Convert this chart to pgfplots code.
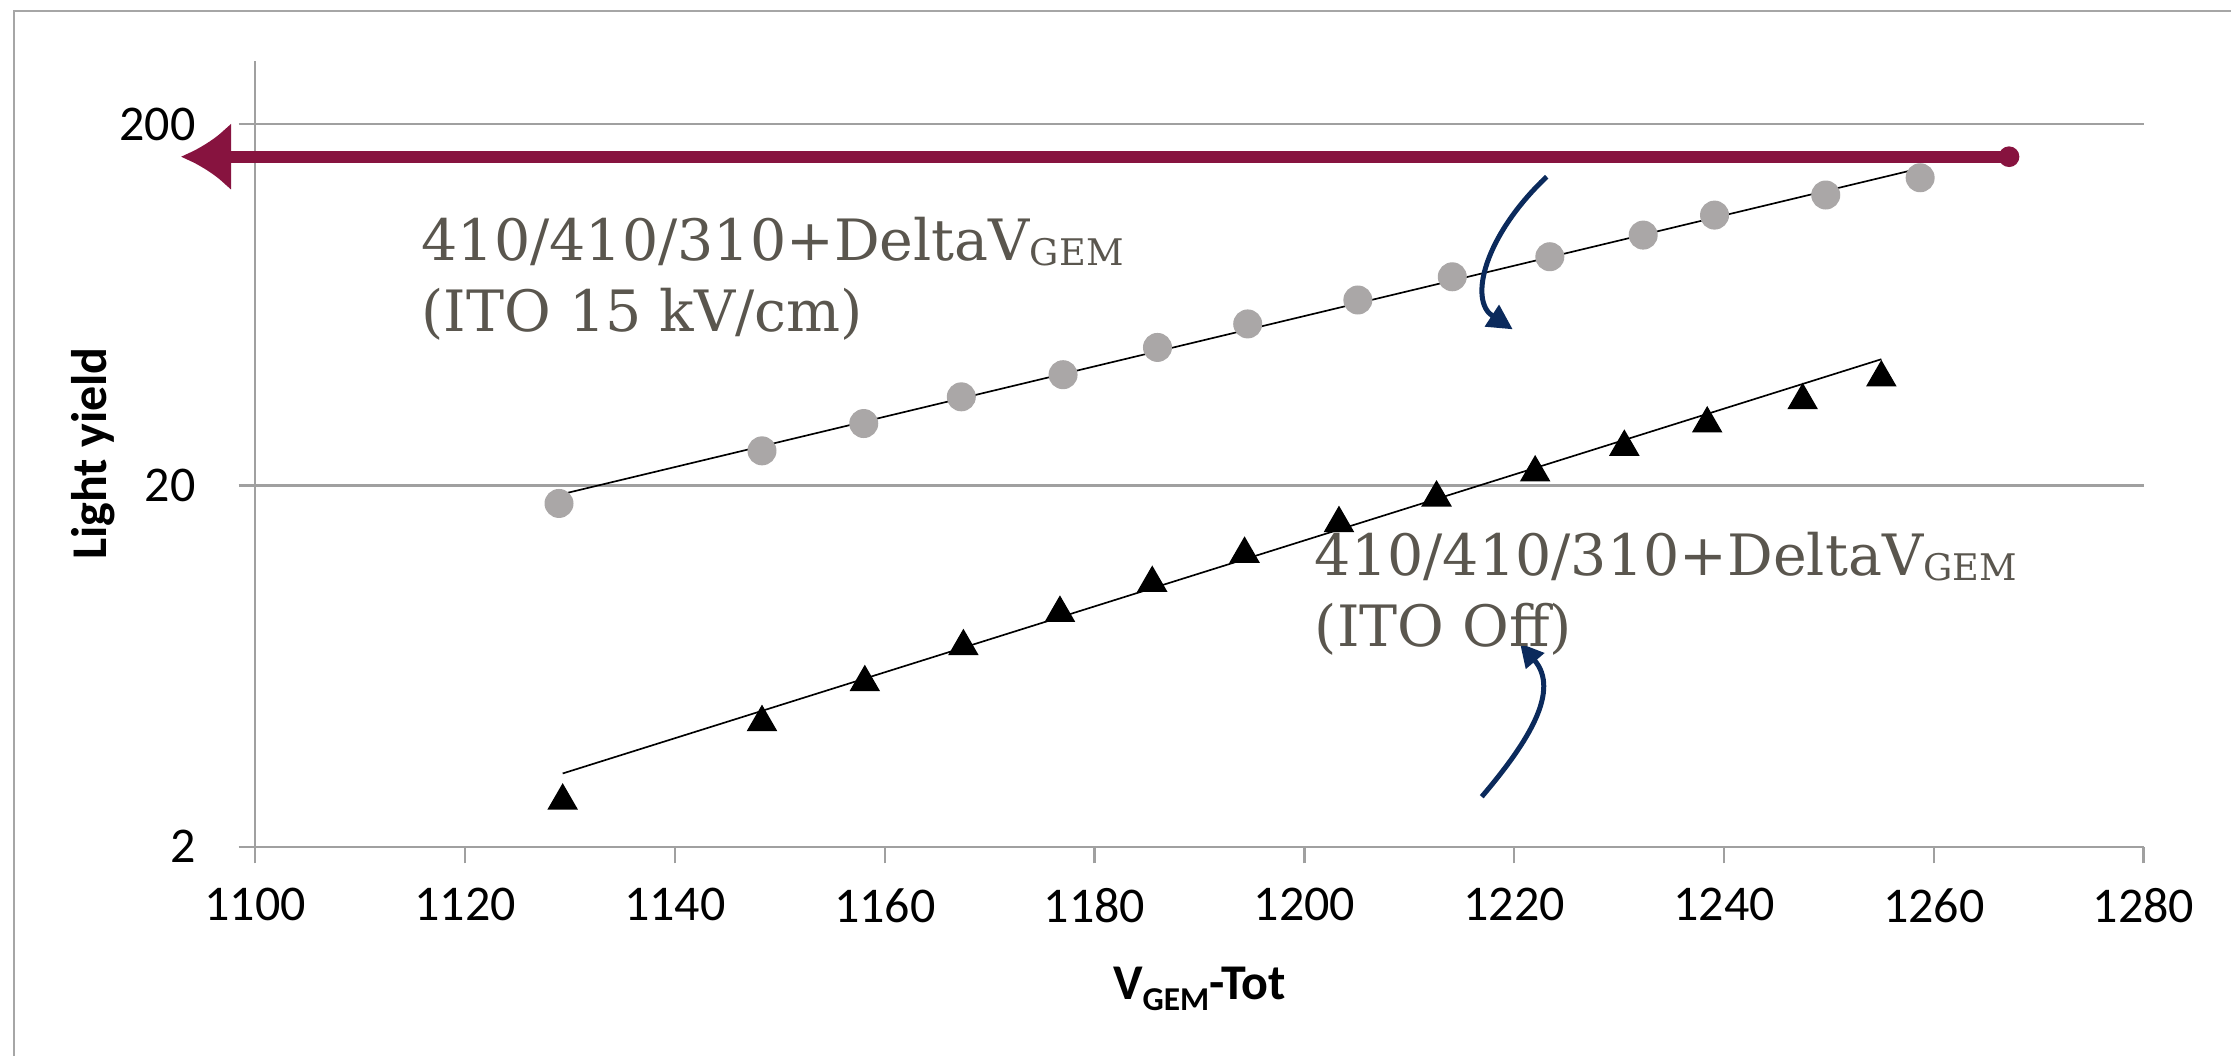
\documentclass[border=0pt]{standalone}
\usepackage{pgfplots}
\pgfplotsset{compat=1.18}
\usepackage{fontspec}
\setmainfont{Carlito}
\newfontfamily\typew{DejaVu Serif}
\usetikzlibrary{arrows.meta}
\definecolor{axisgray}{HTML}{A0A0A0}
\definecolor{framegray}{HTML}{A6A6A6}
\definecolor{circgray}{HTML}{AAA7A7}
\definecolor{maroon}{HTML}{87133F}
\definecolor{navy}{HTML}{0B2A5C}
\definecolor{textgray}{HTML}{5A564E}
\begin{document}
\begin{tikzpicture}
\path[use as bounding box] (0,0) rectangle (669.3pt,-316.8pt);
\begin{axis}[
  at={(76.59pt,-254.01pt)}, anchor=south west,
  scale only axis, width=566.49pt, height=235.86pt,
  xmin=1100, xmax=1280, ymin=2, ymax=300, ymode=log,
  xtick={1100,1120,...,1280}, ytick={2,20,200}, yticklabels={2,20,200},
  yminorticks=false, xminorticks=false,
  axis x line*=bottom, axis y line*=left,
  axis line style={draw=axisgray, line width=0.7pt, -},
  tick align=outside, major tick length=5pt,
  tick style={axisgray, line width=0.7pt},
  ymajorgrids=true, major grid style={axisgray, line width=0.7pt},
  /pgf/number format/1000 sep={},
  /pgf/number format/assume math mode=true,
  ticklabel style={font=\fontsize{15}{18}\selectfont, text=black},
  xticklabel style={yshift=-4pt},
  yticklabel style={xshift=-9.4pt},
  xlabel={V\raisebox{-3.3pt}{\fontsize{10}{12}\selectfont GEM}-Tot},
  ylabel={Light yield},
  xlabel style={font=\bfseries\fontsize{15}{18}\selectfont, at={(axis description cs:0.5,0)}, anchor=base, yshift=-45.7pt},
  ylabel style={font=\bfseries\fontsize{15}{18}\selectfont, at={(axis description cs:-0.086,0.5)}, anchor=center},
]
\addplot[only marks, mark=*, mark size=4.15pt, mark options={draw=circgray, fill=circgray}] coordinates {
(1128.95,17.83) (1148.3,24.93) (1158.0,29.67) (1167.3,35.18) (1177.0,40.50) (1186.0,48.19) (1194.6,55.98)
(1205.1,65.2) (1214.1,75.6) (1223.4,85.9) (1232.3,98.6) (1239.1,112.0) (1249.7,127.3) (1258.7,142.1)};
\addplot[only marks, mark=triangle*, mark size=4.9pt, mark options={draw=black, fill=black}] coordinates {
(1129.3,2.68) (1148.3,4.42) (1158.1,5.70) (1167.5,7.17) (1176.7,8.87) (1185.5,10.73) (1194.3,12.92)
(1203.3,15.71) (1212.6,18.50) (1222.0,21.70) (1230.5,25.55) (1238.4,29.65) (1247.5,34.40) (1255.0,39.77)};
\addplot[black, line width=0.5pt, no marks] coordinates {(1129,18.85) (1258.4,150.2)};
\addplot[black, line width=0.5pt, no marks] coordinates {(1129.3,3.19) (1255.0,44.7)};
\end{axis}
\begin{scope}[x=0.3pt, y=-0.3pt]
\draw[framegray, line width=0.8pt] (14,1056) -- (14,11) -- (2231,11);
\draw[maroon, line width=3.6pt, -{Latex[length=15pt,width=20.5pt]}] (2009,156.7) -- (181,156.7);
\fill[maroon] (2009,156.7) circle (3.1pt);
\draw[navy, line width=1.5pt, -{Triangle[length=7.5pt,width=7.5pt]}] (1546.7,176.7) .. controls (1485,235) and (1468,300) .. (1512.7,329.3);
\draw[navy, line width=1.5pt, -{Triangle[length=7pt,width=7pt]}] (1481.7,796.7) .. controls (1530,740) and (1560,690) .. (1520,643.3);
\begin{scope}[every node/.style={anchor=base west, inner sep=0pt, text=textgray, font=\typew\fontsize{17.1}{20}\selectfont}]
\node at (421,260) {410/410/310+DeltaV\raisebox{-1.5pt}{\fontsize{11}{13}\selectfont GEM}};
\node at (421,331.7) {(ITO 15 kV/cm)};
\node at (1314.3,575) {410/410/310+DeltaV\raisebox{-1.5pt}{\fontsize{11}{13}\selectfont GEM}};
\node at (1314.3,646.7) {(ITO Off)};
\end{scope}
\end{scope}
\end{tikzpicture}
\end{document}
